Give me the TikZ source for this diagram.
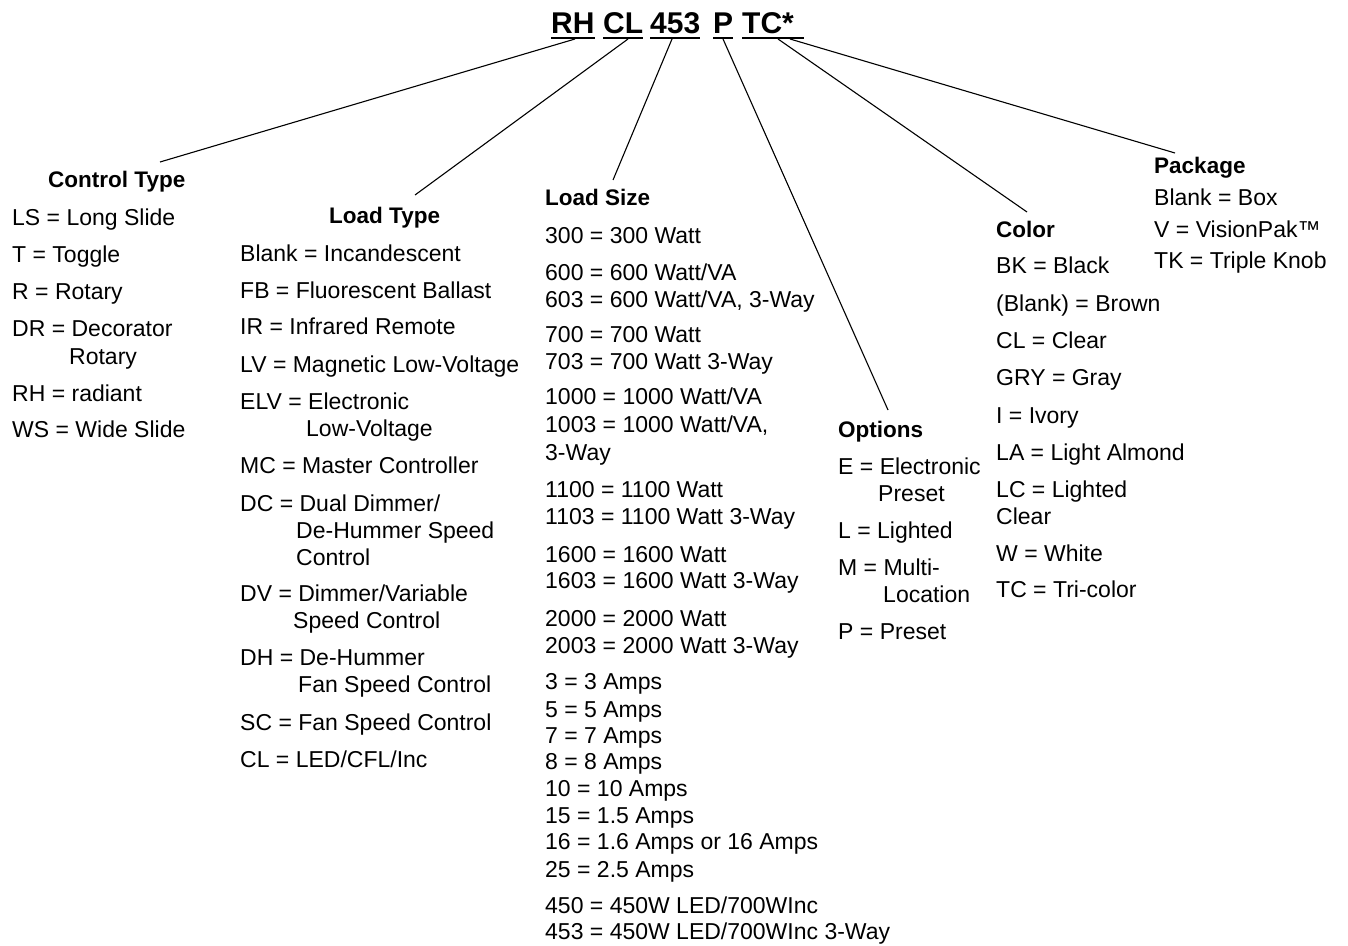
\documentclass[tikz,border=0pt]{standalone}
\usepackage{fontspec}
\setmainfont{Liberation Sans}
\usetikzlibrary{calc}
\newcommand\myitemfont{\fontsize{23}{27}\selectfont}
\newcommand\myheadfont{\fontsize{22.5}{27}\selectfont\bfseries}
\newcommand\mytitlefont{\fontsize{30}{36}\selectfont\bfseries}
\begin{document}
\begin{tikzpicture}[x=1pt,y=-1pt,
  item/.style={anchor=base west, inner sep=0pt, font=\myitemfont},
  head/.style={anchor=base west, inner sep=0pt, font=\myheadfont},
  code/.style={anchor=base west, inner sep=0pt, font=\mytitlefont},
  uline/.style={line width=2.6pt},
  leader/.style={line width=1.1pt}]
\useasboundingbox (0,0) rectangle (1348,945);

% title code
\node[code] (rh) at (551,33) {RH};
\node[code] (cl) at (603,33) {CL};
\node[code] (n453) at (650,33) {453};
\node[code] (p) at (713,33) {P};
\node[code] (tc) at (742,33) {TC*};
\foreach \n in {rh,cl,n453,p}
  \draw[uline] ($(\n.base west)+(0,5)$) -- ($(\n.base east)+(0,5)$);
\draw[uline] ($(tc.base west)+(0,5)$) -- ($(tc.base east)+(10,5)$);

% headings
\node[head] (hct) at (48,187) {Control Type};
\node[head] (hlt) at (329,223) {Load Type};
\node[head] (hls) at (545,205) {Load Size};
\node[head] (hop) at (838,437) {Options};
\node[head] (hco) at (996,237) {Color};
\node[head] (hpk) at (1154,173) {Package};

% connector ends
\coordinate (s1) at (575,39);
\coordinate (s2) at (628,39);
\coordinate (s3) at (672,39);
\coordinate (s4) at (723,39);
\coordinate (s5) at (778,39);
\coordinate (s6) at (790,39);
\coordinate (e1) at (160,162);
\coordinate (e2) at (415,195);
\coordinate (e3) at (613,180);
\coordinate (e4) at (888,410);
\coordinate (e5) at (1027,212);
\coordinate (e6) at (1175,153);
\foreach \i in {1,...,6} \draw[leader] (s\i) -- (e\i);

% Control Type
\foreach \x/\y/\t [count=\i] in {
  12/225/{LS = Long Slide}, 12/262/{T = Toggle}, 12/299/{R = Rotary},
  12/336/{DR = Decorator}, 69/364/{Rotary}, 12/401/{RH = radiant},
  12/437/{WS = Wide Slide}}
  \node[item] (ct\i) at (\x,\y) {\t};

% Load Type
\foreach \x/\y/\t [count=\i] in {
  240/261/{Blank = Incandescent}, 240/298/{FB = Fluorescent Ballast},
  240/334/{IR = Infrared Remote}, 240/372/{LV = Magnetic Low-Voltage},
  240/409/{ELV = Electronic}, 306/436/{Low-Voltage},
  240/473/{MC = Master Controller}, 240/511/{DC = Dual Dimmer/},
  296/538/{De-Hummer Speed}, 296/565/{Control},
  240/601/{DV = Dimmer/Variable}, 293/628/{Speed Control},
  240/665/{DH = De-Hummer}, 298/692/{Fan Speed Control},
  240/730/{SC = Fan Speed Control}, 240/767/{CL = LED/CFL/Inc}}
  \node[item] (lt\i) at (\x,\y) {\t};

% Load Size
\foreach \y/\t [count=\i] in {
  243/{300 = 300 Watt}, 280/{600 = 600 Watt/VA}, 307/{603 = 600 Watt/VA, 3-Way},
  342/{700 = 700 Watt}, 369/{703 = 700 Watt 3-Way},
  404/{1000 = 1000 Watt/VA}, 432/{1003 = 1000 Watt/VA,}, 460/{3-Way},
  497/{1100 = 1100 Watt}, 524/{1103 = 1100 Watt 3-Way},
  562/{1600 = 1600 Watt}, 588/{1603 = 1600 Watt 3-Way},
  626/{2000 = 2000 Watt}, 653/{2003 = 2000 Watt 3-Way},
  689/{3 = 3 Amps}, 717/{5 = 5 Amps}, 743/{7 = 7 Amps}, 769/{8 = 8 Amps},
  796/{10 = 10 Amps}, 823/{15 = 1.5 Amps}, 849/{16 = 1.6 Amps or 16 Amps},
  877/{25 = 2.5 Amps}, 913/{450 = 450W LED/700WInc},
  939/{453 = 450W LED/700WInc 3-Way}}
  \node[item] (ls\i) at (545,\y) {\t};

% Options
\foreach \x/\y/\t [count=\i] in {
  838/474/{E = Electronic}, 878/501/{Preset}, 838/538/{L = Lighted},
  838/575/{M = Multi-}, 883/602/{Location}, 838/639/{P = Preset}}
  \node[item] (op\i) at (\x,\y) {\t};

% Color
\foreach \y/\t [count=\i] in {
  273/{BK = Black}, 311/{(Blank) = Brown}, 348/{CL = Clear}, 385/{GRY = Gray},
  423/{I = Ivory}, 460/{LA = Light Almond}, 497/{LC = Lighted}, 524/{Clear},
  561/{W = White}, 597/{TC = Tri-color}}
  \node[item] (co\i) at (996,\y) {\t};

% Package
\foreach \y/\t [count=\i] in {
  205/{Blank = Box}, 237/{V = VisionPak™}, 268/{TK = Triple Knob}}
  \node[item] (pk\i) at (1154,\y) {\t};
\end{tikzpicture}
\end{document}
